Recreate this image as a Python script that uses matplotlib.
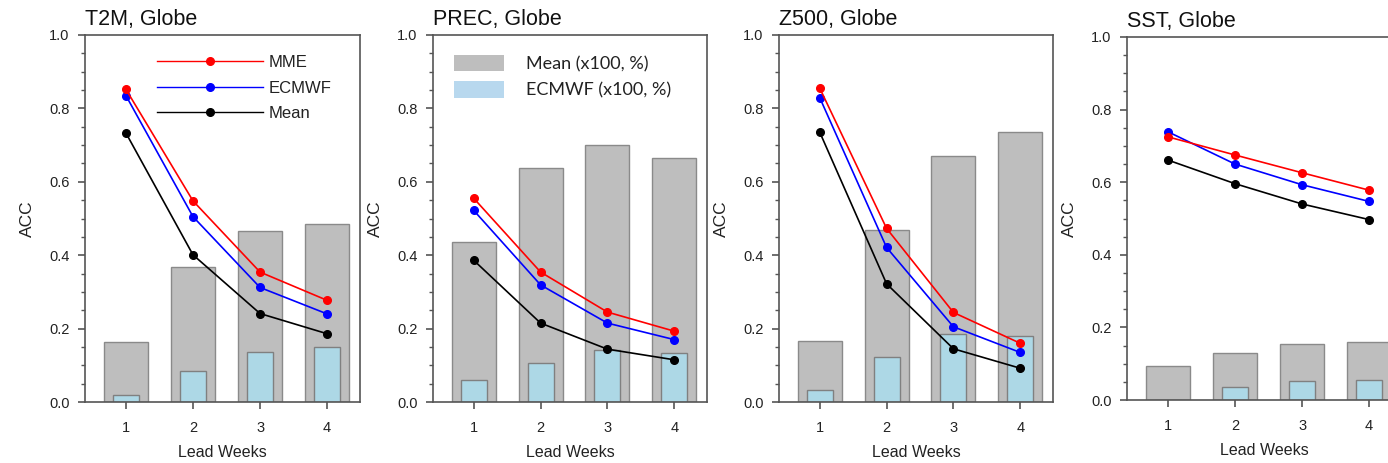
import matplotlib
matplotlib.use("Agg")
import matplotlib.pyplot as plt
from matplotlib.patches import Patch
from matplotlib.lines import Line2D
from matplotlib.ticker import MultipleLocator, FormatStrFormatter

weeks = [1, 2, 3, 4]
titles = ["T2M, Globe", "PREC, Globe", "Z500, Globe", "SST, Globe"]

mme = [
    [0.852, 0.548, 0.354, 0.277],
    [0.555, 0.354, 0.245, 0.193],
    [0.855, 0.473, 0.244, 0.160],
    [0.725, 0.675, 0.626, 0.578],
]
ecmwf = [
    [0.835, 0.505, 0.312, 0.240],
    [0.522, 0.319, 0.215, 0.170],
    [0.829, 0.421, 0.205, 0.135],
    [0.739, 0.650, 0.593, 0.547],
]
mean = [
    [0.733, 0.401, 0.241, 0.186],
    [0.386, 0.215, 0.144, 0.115],
    [0.735, 0.322, 0.145, 0.092],
    [0.661, 0.596, 0.540, 0.497],
]
bar_mean = [
    [0.163, 0.367, 0.466, 0.484],
    [0.435, 0.637, 0.699, 0.665],
    [0.165, 0.469, 0.670, 0.735],
    [0.095, 0.130, 0.154, 0.161],
]
bar_ecmwf = [
    [0.018, 0.085, 0.136, 0.150],
    [0.061, 0.105, 0.141, 0.134],
    [0.032, 0.122, 0.185, 0.179],
    [0.000, 0.035, 0.052, 0.055],
]

W, H = 1388, 463
fig = plt.figure(figsize=(W / 100, H / 100), dpi=100)
plt.rcParams['font.family'] = ['Liberation Sans', 'DejaVu Sans']

# axes boxes in pixels: left, top, right, bottom
boxes = [(85, 35, 360, 402), (433, 35, 707, 402), (779, 35, 1053, 402), (1127, 37, 1402, 400)]

spine_c = "#555555"
ms = 5.5
lw = 1.2
for i, (l, t, r, b) in enumerate(boxes):
    ax = fig.add_axes([l / W, 1 - b / H, (r - l) / W, (b - t) / H])
    ax.bar(weeks, bar_mean[i], width=0.66, color="#bebebe", edgecolor="#8a8a8a", linewidth=1.0, zorder=1)
    ax.bar(weeks, bar_ecmwf[i], width=0.39, color="#add8e6", edgecolor="#808080", linewidth=1.0, zorder=2)
    ax.plot(weeks, mme[i], color="red", lw=lw, marker="o", ms=ms, zorder=5, clip_on=False)
    ax.plot(weeks, ecmwf[i], color="blue", lw=lw, marker="o", ms=ms, zorder=4, clip_on=False)
    ax.plot(weeks, mean[i], color="black", lw=lw, marker="o", ms=ms, zorder=3, clip_on=False)
    ax.set_xlim(0.39, 4.49)
    ax.set_ylim(0, 1.0)
    ax.set_xticks(weeks)
    ax.yaxis.set_major_locator(MultipleLocator(0.2))
    ax.yaxis.set_minor_locator(MultipleLocator(0.05))
    ax.yaxis.set_major_formatter(FormatStrFormatter("%.1f"))
    ax.tick_params(axis="y", which="major", direction="out", length=5, width=1.2, color=spine_c,
                   labelsize=10.5, pad=6, labelcolor="#222222")
    ax.tick_params(axis="y", which="minor", direction="out", length=3, width=1.0, color=spine_c)
    ax.tick_params(axis="x", which="major", direction="out", length=5, width=1.2, color=spine_c,
                   labelsize=10.5, pad=9, labelcolor="#222222")
    for s in ax.spines.values():
        s.set_color(spine_c)
        s.set_linewidth(1.2)
    ax.set_ylabel("ACC", fontsize=12.5, labelpad=10, color="#222222")
    ax.set_xlabel("Lead Weeks", fontsize=11.5, labelpad=7, color="#222222")
    ax.set_title(titles[i], loc="left", fontsize=15.5, pad=7, color="#111111")

    if i == 0:
        handles = [
            Line2D([], [], color="red", lw=1.0, marker="o", ms=ms),
            Line2D([], [], color="blue", lw=1.0, marker="o", ms=ms),
            Line2D([], [], color="black", lw=1.0, marker="o", ms=ms),
        ]
        leg = ax.legend(handles, ["MME", "ECMWF", "Mean"], loc="upper left",
                        bbox_to_anchor=(0.26, 0.945), frameon=False, fontsize=12,
                        handlelength=6.4, handletextpad=0.3, labelspacing=0.62,
                        borderaxespad=0, borderpad=0, numpoints=1)
        for txt in leg.get_texts():
            txt.set_color("#222222")
    if i == 1:
        handles = [Patch(facecolor="#bebebe", edgecolor="none"),
                   Patch(facecolor="#b8d8ee", edgecolor="none")]
        leg = ax.legend(handles, ["Mean (x100, %)", "ECMWF (x100, %)"], loc="upper left",
                        bbox_to_anchor=(0.075, 0.945), frameon=False,
                        prop={"family": ["Lato", "DejaVu Sans"], "size": 13},
                        handlelength=2.8, handleheight=1.0, handletextpad=1.2, labelspacing=0.5,
                        borderaxespad=0, borderpad=0)
        for txt in leg.get_texts():
            txt.set_color("#222222")

fig.savefig("out.png", dpi=100)
